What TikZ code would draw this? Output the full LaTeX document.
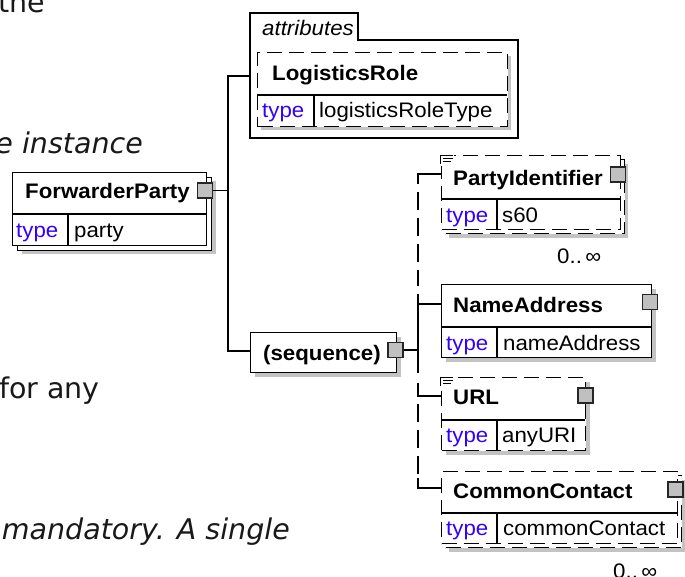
\documentclass[tikz,border=0pt]{standalone}
\usepackage{fontspec}
\setmainfont{Liberation Sans}
\newfontfamily\diagfont[FakeStretch=1.06]{Liberation Sans}
\newfontfamily\bgfont{DejaVu Sans}
\definecolor{typeblue}{RGB}{51,0,255}
\definecolor{shadowgray}{RGB}{195,195,195}
\definecolor{sqgray}{RGB}{192,192,192}
\definecolor{bgtextcol}{RGB}{25,25,25}
\newcommand\bfnt{\diagfont\bfseries\fontsize{21}{25}\selectfont}
\newcommand\rfnt{\diagfont\fontsize{21}{25}\selectfont}
\newcommand\ifnt{\diagfont\itshape\fontsize{21}{25}\selectfont}
\tikzset{
  box/.style={draw=black, fill=white, line width=1.4pt, inner sep=0, anchor=north west},
  optbox/.style={box, dash pattern=on 15pt off 7pt},
  shadowbox/.style={fill=shadowgray, draw=none, inner sep=0, anchor=north west},
  divline/.style={line width=1.4pt},
  titletext/.style={font=\bfnt, anchor=base west, inner sep=0},
  typetext/.style={font=\rfnt, text=typeblue, anchor=base west, inner sep=0},
  valtext/.style={font=\rfnt, anchor=base west, inner sep=0},
  sqbox/.style={draw=black!85, fill=sqgray, line width=1.2pt, minimum size=15pt, inner sep=0},
  conn/.style={line width=1.4pt},
  optconn/.style={line width=1.4pt, dash pattern=on 18pt off 8pt},
  bgtext/.style={font=\bgfont\fontsize{28.5}{34}\selectfont, text=bgtextcol, inner sep=0, anchor=base east},
  bgitext/.style={bgtext, font=\bgfont\itshape\fontsize{28.5}{34}\selectfont},
  occtext/.style={font=\rfnt, anchor=base west, inner sep=0},
  iconline/.style={line width=1.1pt}
}
\begin{document}
\begin{tikzpicture}[x=1pt, y=-1pt]
\useasboundingbox (0,0) rectangle (685,576);
% background text fragments
\node[bgtext] (bg1) at (45,12) {the};
\node[bgitext] (bg2) at (143,153) {e instance};
\node[bgtext] (bg3) at (100,398) {for any};
\node[bgitext] (bg4) at (290,539) {mandatory. A single};

% ForwarderParty
\node[shadowbox, minimum width=194pt, minimum height=73pt] (fpsh) at (22,181) {};
\node[box, minimum width=194pt, minimum height=73pt] (fpback) at (17,177) {};
\node[box, minimum width=194pt, minimum height=73pt] (fp) at (12,172) {};
\draw[divline] (12,214) -- (206,214);
\draw[divline] (68,214) -- (68,245);
\node[titletext] (fpt) at (25,198) {ForwarderParty};
\node[typetext] (fpty) at (16,237) {type};
\node[valtext] (fpv) at (74,237) {party};
\node[sqbox] (fpsq) at (205,190.5) {};

% attributes container
\draw[line width=1.4pt, fill=white] (250,138) -- (250,13) -- (358,13) -- (358,40) -- (518,40) -- (518,138) -- cycle;
\node[font=\ifnt, anchor=base west, inner sep=0] (attrl) at (262,35) {attributes};
\coordinate (attrin) at (250,76);

% LogisticsRole
\node[shadowbox, minimum width=250pt, minimum height=74pt] (lrsh) at (261,56) {};
\node[optbox, minimum width=250pt, minimum height=74pt] (lr) at (257,52) {};
\draw[divline] (257,95) -- (507,95);
\draw[divline] (314,95) -- (314,126);
\node[titletext] (lrt) at (272,80) {LogisticsRole};
\node[typetext] (lrty) at (262,117) {type};
\node[valtext] (lrv) at (319,117) {logisticsRoleType};

% sequence
\node[shadowbox, minimum width=146pt, minimum height=40pt] (seqsh) at (255,337) {};
\node[box, minimum width=146pt, minimum height=40pt] (seq) at (250,332) {};
\node[titletext] (seqt) at (263,360) {(sequence)};
\node[sqbox] (seqsq) at (395.5,350) {};

% PartyIdentifier
\node[shadowbox, minimum width=179pt, minimum height=74pt] (pish) at (449,164) {};
\node[optbox, minimum width=179pt, minimum height=74pt] (piback) at (445,159) {};
\node[optbox, minimum width=179pt, minimum height=74pt] (pi) at (441,155) {};
\draw[divline] (441,199) -- (620,199);
\draw[divline] (497,199) -- (497,229);
\fill[white] (439,152) rectangle (454,166);
\draw[iconline] (440,155.5) -- (453,155.5) (443,158.5) -- (453,158.5) (443,161.5) -- (451,161.5) (440.5,155) -- (440.5,164);
\node[titletext] (pit) at (453,185) {PartyIdentifier};
\node[typetext] (pity) at (446,222) {type};
\node[valtext] (piv) at (502,222) {s60};
\node[sqbox] (pisq) at (618,174.5) {};
\node[occtext] (pio) at (557,263) {0..\,∞};

% NameAddress
\node[shadowbox, minimum width=210pt, minimum height=73pt] (nash) at (446,289) {};
\node[box, minimum width=210pt, minimum height=73pt] (na) at (441,284) {};
\draw[divline] (441,327) -- (651,327);
\draw[divline] (497,327) -- (497,357);
\node[titletext] (nat) at (453,312) {NameAddress};
\node[typetext] (naty) at (446,350) {type};
\node[valtext] (nav) at (503,350) {nameAddress};
\node[sqbox] (nasq) at (650,302) {};

% URL
\node[shadowbox, minimum width=144pt, minimum height=73pt] (urlsh) at (446,382) {};
\node[optbox, minimum width=144pt, minimum height=73pt] (url) at (441,377) {};
\draw[divline] (441,420) -- (585,420);
\draw[divline] (497,420) -- (497,450);
\fill[white] (439,374) rectangle (454,388);
\draw[iconline] (440,377.5) -- (453,377.5) (443,380.5) -- (453,380.5) (443,383.5) -- (451,383.5) (440.5,377) -- (440.5,386);
\node[titletext] (urlt) at (453,404) {URL};
\node[typetext] (urlty) at (446,442) {type};
\node[valtext] (urlv) at (502,442) {anyURI};
\node[sqbox] (urlsq) at (585.5,395.5) {};

% CommonContact
\node[shadowbox, minimum width=236pt, minimum height=72pt] (ccsh) at (449,480) {};
\node[optbox, minimum width=236pt, minimum height=72pt] (ccback) at (445,475) {};
\node[optbox, minimum width=236pt, minimum height=72pt] (cc) at (441,471) {};
\draw[divline] (441,513) -- (677,513);
\draw[divline] (497,513) -- (497,543);
\node[titletext] (cct) at (453,498) {CommonContact};
\node[typetext] (ccty) at (446,535) {type};
\node[valtext] (ccv) at (503,535) {commonContact};
\node[sqbox] (ccsq) at (675.5,489.5) {};
\node[occtext] (cco) at (613,578) {0..\,∞};

% connectors: ForwarderParty -> attributes / sequence
\coordinate (ja) at (228,76);
\coordinate (jb) at (228,351);
\draw[conn] (fpsq.east) -- (fpsq.east -| ja);
\draw[conn] (attrin) -- (ja) -- (jb) -- (seq.west |- jb);

% connectors: sequence -> children
\coordinate (tpi) at (418,174);
\coordinate (tna) at (418,304);
\coordinate (turl) at (418,396);
\coordinate (tcc) at (418,488);
\coordinate (tseq) at (418,350);
\draw[conn] (seqsq.east) -- (tseq);
\draw[conn] (pi.west |- tpi) -- (tpi) -- (418,184);
\draw[optconn] (418,192) -- (418,286);
\draw[conn] (418,294) -- (418,373);
\draw[conn] (tna) -- (na.west |- tna);
\draw[conn] (418,383) -- (turl) -- (url.west |- turl);
\draw[optconn] (418,404) -- (418,478);
\draw[conn] (418,478) -- (tcc) -- (cc.west |- tcc);
\end{tikzpicture}
\end{document}
